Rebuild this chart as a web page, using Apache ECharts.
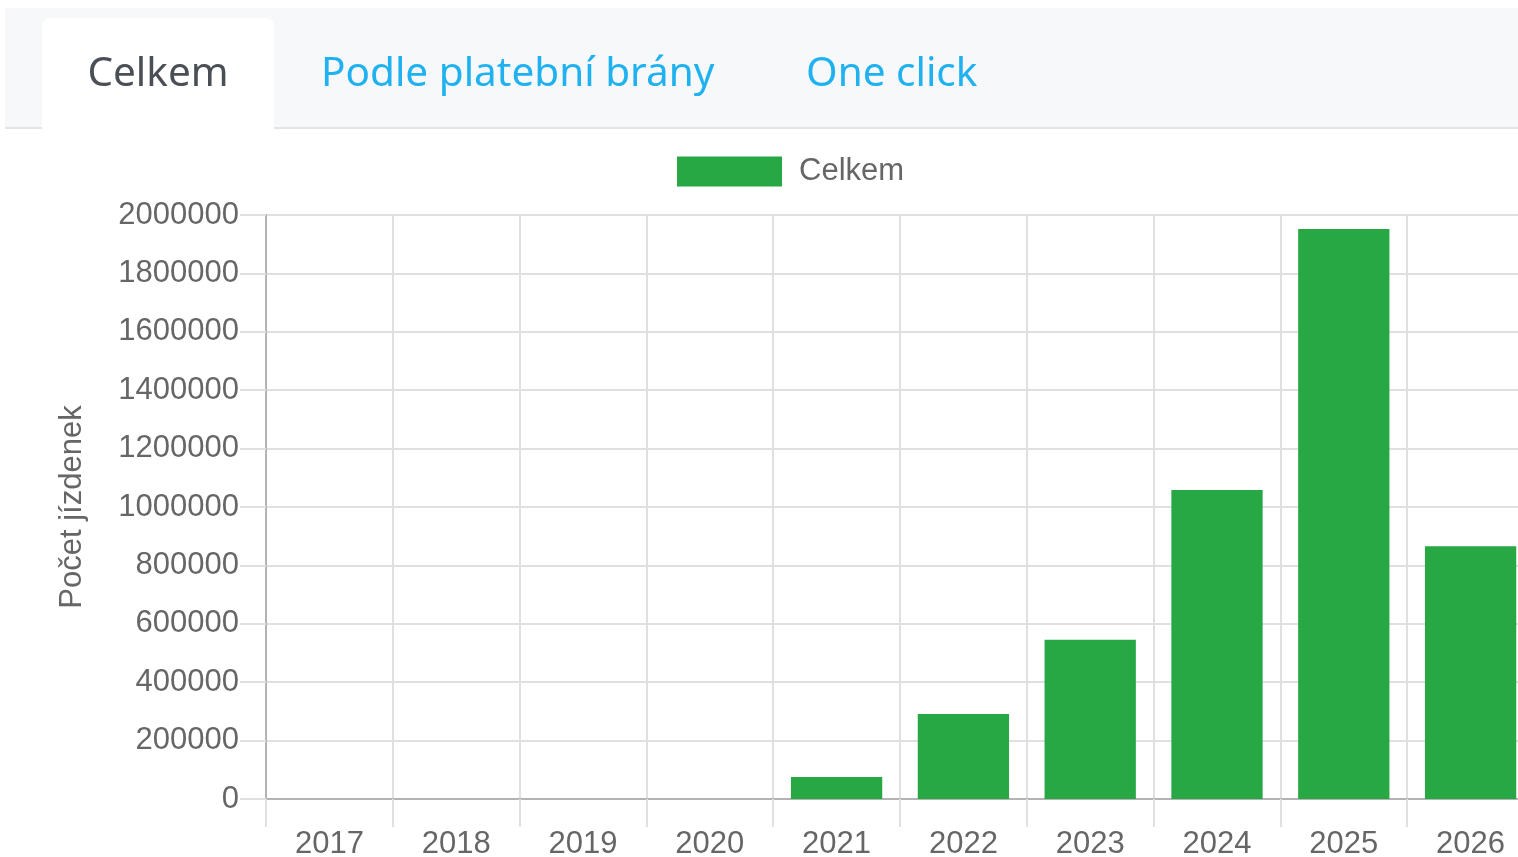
<!DOCTYPE html>
<html>
<head>
<meta charset="utf-8">
<script src="https://cdn.jsdelivr.net/npm/echarts@6/dist/echarts.min.js"></script>
<style>
html,body{margin:0;padding:0;background:#fff;}
#chart{width:1518px;height:857px;}
</style>
</head>
<body>
<div id="chart"></div>
<script>
const categories = ['2017','2018','2019','2020','2021','2022','2023','2024','2025','2026'];
const celkem = [0, 0, 0, 0, 75000, 291000, 545000, 1058000, 1952000, 866000];
const seriesName = 'Celkem';
const yAxisTitle = 'Počet jízdenek';
const tabLabels = ['Celkem', 'Podle platební brány', 'One click'];

const chart = echarts.init(document.getElementById('chart'));
const labelFont = '"Liberation Sans", Arial, Helvetica, sans-serif';
const tabFont = '"Noto Sans", Lato, sans-serif';

chart.setOption({
  animation: false,
  textStyle: {fontFamily: labelFont},
  graphic: [
    {type:'rect', shape:{x:5, y:8, width:1513, height:120}, style:{fill:'#f7f8fa'}, z:0},
    {type:'rect', shape:{x:5, y:127, width:1513, height:2}, style:{fill:'#e1e4e8'}, z:0},
    {type:'rect', shape:{x:42, y:18, width:232, height:112, r:[8,8,0,0]}, style:{fill:'#ffffff'}, z:1},
    {type:'text', x:158, y:74, style:{text:tabLabels[0], fill:'#4a4f55', font:'40.5px ' + tabFont, textAlign:'center', textVerticalAlign:'middle'}, z:2},
    {type:'text', x:321, y:74, style:{text:tabLabels[1], fill:'#1fb1f0', font:'40.5px ' + tabFont, textAlign:'left', textVerticalAlign:'middle'}, z:2},
    {type:'text', x:806, y:74, style:{text:tabLabels[2], fill:'#1fb1f0', font:'40.5px ' + tabFont, textAlign:'left', textVerticalAlign:'middle'}, z:2}
  ],
  legend: {
    data: [seriesName],
    left: 677, top: 156,
    padding: 0,
    icon: 'rect',
    itemWidth: 105, itemHeight: 30,
    textStyle: {fontSize: 31, color: '#666', fontFamily: labelFont, padding:[0,0,0,12]}
  },
  grid: {left: 266, top: 215, width: 1268, height: 584, containLabel: false, outerBoundsMode: 'none'},
  xAxis: {
    type: 'category',
    data: categories,
    boundaryGap: true,
    axisLine: {show: true, lineStyle: {color: '#b3b3b3', width: 2}},
    axisTick: {show: true, length: 28, lineStyle: {color: '#e0e0e0', width: 2}},
    splitLine: {show: true, lineStyle: {color: '#e0e0e0', width: 2}},
    axisLabel: {fontSize: 31, color: '#666', margin: 30, fontFamily: labelFont}
  },
  yAxis: {
    type: 'value',
    min: 0, max: 2000000, interval: 200000,
    name: yAxisTitle,
    nameLocation: 'middle',
    nameGap: 178,
    nameTextStyle: {fontSize: 31, color: '#666', fontFamily: labelFont},
    axisLine: {show: true, lineStyle: {color: '#b3b3b3', width: 2}},
    axisTick: {show: true, length: 26, lineStyle: {color: '#e0e0e0', width: 2}},
    splitLine: {show: true, lineStyle: {color: '#e0e0e0', width: 2}},
    axisLabel: {fontSize: 31, color: '#666', margin: 27, fontFamily: labelFont, formatter: function (v) { return String(v); }}
  },
  series: [{
    name: seriesName,
    type: 'bar',
    data: celkem,
    barCategoryGap: '28%',
    itemStyle: {color: '#28a745'}
  }]
});
</script>
</body>
</html>
